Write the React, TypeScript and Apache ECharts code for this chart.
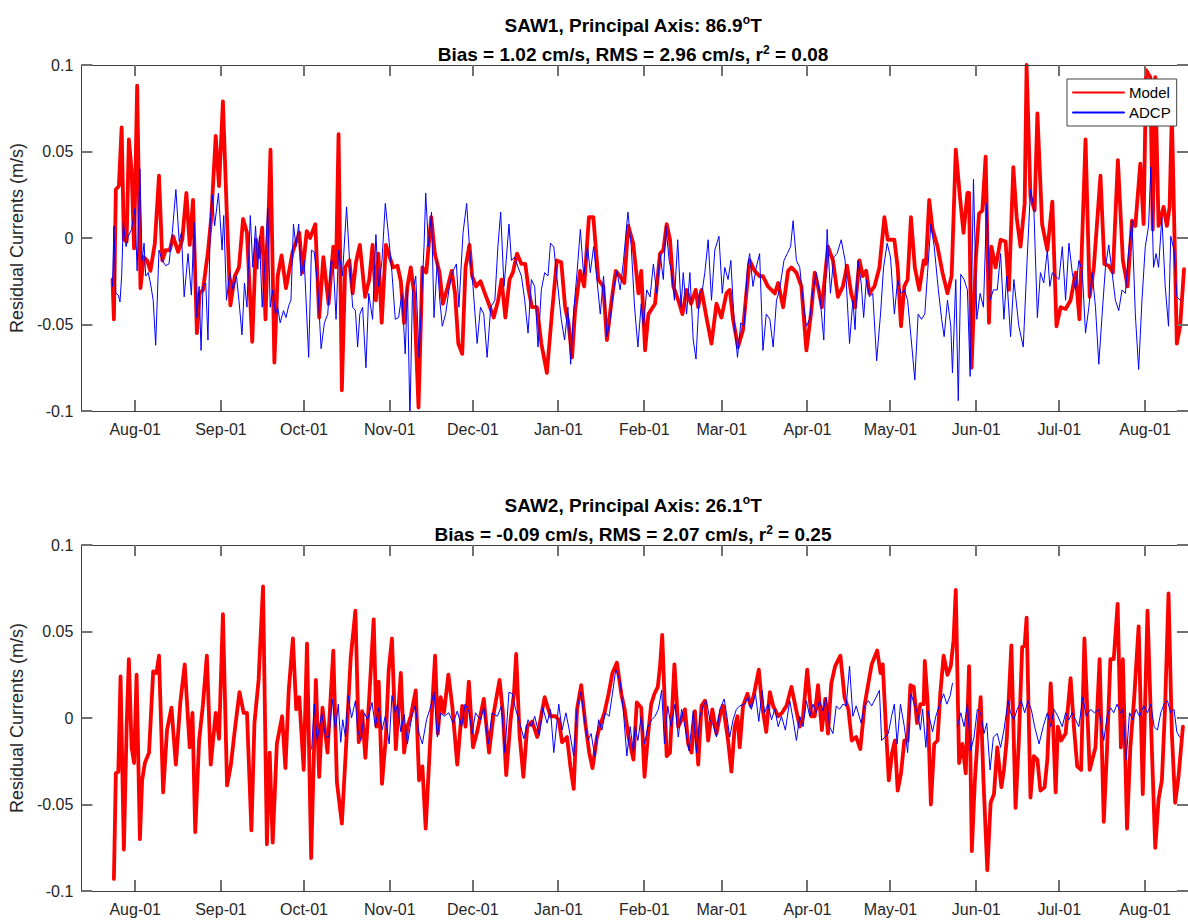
import React, { useEffect, useRef } from "react";
import * as echarts from "echarts";

// ---- axis / tick data ----
const monthDays = [0, 31, 61, 92, 122, 153, 184, 212, 243, 273, 304, 334, 365];
const monthLabels = ["Aug-01", "Sep-01", "Oct-01", "Nov-01", "Dec-01", "Jan-01", "Feb-01", "Mar-01", "Apr-01", "May-01", "Jun-01", "Jul-01", "Aug-01"];
const yTickValues = [-0.1, -0.05, 0, 0.05, 0.1];
const dayMin = -19.46;
const dayMax = 380.54;
const yMin = -0.1;
const yMax = 0.1;
const yStep = 0.05;

// ---- titles ----
const stations = ["SAW1", "SAW2"];
const principalAxis = [86.9, 26.1];
const biasCm = [1.02, -0.09];
const rmsCm = [2.96, 2.07];
const rSquared = [0.08, 0.25];

// ---- series: [days since Aug-01, residual current m/s] ----
const saw1Model: [number, number][] = [
  [-8.2,-0.024],[-7.7,-0.047],[-7.0,0.028],[-5.9,0.030],[-4.9,0.064],[-4.1,-0.001],[-3.1,-0.002],[-2.3,0.057],[-1.3,0.039],[-0.4,-0.006],
  [0.7,0.088],[1.9,-0.029],[3.1,-0.011],[4.3,-0.013],[5.5,-0.019],[7.1,-0.003],[8.6,0.036],[9.8,-0.013],[11.0,-0.007],[12.5,-0.007],
  [13.7,0.001],[15.5,-0.008],[17.0,-0.001],[18.5,0.026],[19.7,-0.004],[20.9,0.022],[22.3,-0.055],[23.3,-0.032],[24.5,-0.030],[26.3,-0.008],
  [27.5,0.012],[29.1,0.059],[30.3,0.030],[31.7,0.079],[33.2,0.010],[34.4,-0.039],[36.0,-0.022],[37.5,-0.017],[39.0,0.011],[40.4,0.003],
  [42.3,-0.060],[43.7,-0.001],[44.7,-0.011],[45.9,0.006],[47.1,-0.047],[48.9,0.051],[50.3,-0.072],[51.5,-0.022],[52.9,-0.010],[54.5,-0.029],
  [56.9,-0.008],[59.3,0.003],[60.5,-0.020],[62.0,0.004],[63.2,0.000],[65.1,0.008],[66.5,-0.046],[68.0,-0.011],[69.9,-0.038],[71.6,-0.005],
  [72.6,-0.017],[73.5,0.060],[74.7,-0.088],[75.9,-0.017],[77.4,-0.013],
  [78.6,-0.032],[79.8,-0.014],[81.2,-0.004],[83.1,-0.034],[84.6,-0.024],[85.8,-0.004],[87.0,-0.036],[87.9,-0.009],[89.1,-0.049],[90.6,-0.004],
  [92.0,-0.011],[93.2,-0.017],[94.8,-0.016],[96.0,-0.025],[97.2,-0.049],[98.4,-0.028],[99.6,-0.017],[100.8,-0.032],[102.4,-0.098],[103.8,-0.017],
  [105.2,-0.020],[107.0,0.012],[108.3,-0.009],[110.0,-0.020],[111.2,-0.038],[112.8,-0.029],[114.4,-0.019],[115.6,-0.032],[116.8,-0.061],[118.2,-0.067],
  [119.4,-0.017],[120.8,-0.004],[121.8,-0.022],[123.2,-0.028],[124.8,-0.025],[126.4,-0.032],[127.8,-0.038],[129.6,-0.046],[131.2,-0.036],[132.4,-0.024],
  [133.8,-0.046],[135.3,-0.024],[136.5,-0.020],[138.0,-0.009],[139.6,-0.015],[141.0,-0.015],[142.2,-0.030],[143.4,-0.040],[145.2,-0.040],[146.8,-0.061],
  [148.8,-0.078],[150.6,-0.044],[152.4,-0.013],[154.0,-0.014],[155.4,-0.040],[156.6,-0.049],[157.9,-0.069],[159.0,-0.042],[160.8,-0.019],[162.3,-0.028],
  [164.0,0.012],[165.6,0.012],[167.4,-0.024],[169.2,-0.028],[170.5,-0.059],[172.2,-0.036],[173.7,-0.019],[175.2,-0.022],[176.8,-0.026],[178.2,0.007],
  [180.0,-0.003],[181.9,-0.032],[182.9,-0.019],[184.3,-0.065],[185.5,-0.044],[187.9,-0.038],[189.7,-0.009],[190.9,-0.007],[192.1,0.008],[193.3,-0.001],
  [194.5,-0.028],[196.3,-0.036],[197.8,-0.044],[199.3,-0.030],[200.9,-0.038],[202.6,-0.030],[203.5,-0.040],[204.7,-0.030],[206.5,-0.046],[208.3,-0.061],
  [210.1,-0.038],[211.9,-0.046],[213.7,-0.032],[214.9,-0.030],[216.1,-0.047],[217.9,-0.063],[219.7,-0.053],[220.9,-0.032],[222.1,-0.013],[223.9,-0.019],
  [225.7,-0.022],[226.9,-0.022],[228.7,-0.028],[231.2,-0.032],[232.4,-0.026],[234.2,-0.040],[236.0,-0.019],[237.2,-0.017],[239.0,-0.020],[240.8,-0.028],
  [242.6,-0.065],[244.4,-0.042],[245.6,-0.020],[246.8,-0.028],[248.2,-0.040],[250.4,-0.005],[252.2,-0.013],[254.0,-0.034],[255.8,-0.028],[257.3,-0.016],
  [258.8,-0.032],[260.2,-0.040],[261.8,-0.013],[263.0,-0.022],[264.2,-0.019],[265.4,-0.032],[267.2,-0.028],[269.0,-0.017],[270.8,0.012],[272.0,-0.001],
  [274.4,-0.001],[275.6,-0.017],[276.8,-0.051],[278.0,-0.028],[279.2,-0.024],[280.4,0.012],[281.8,-0.017],[283.4,-0.030],[285.0,-0.013],[285.8,-0.015],
  [287.0,0.022],[288.2,0.005],[290.0,-0.005],[291.8,-0.020],[293.6,-0.032],[295.1,-0.022],[296.6,0.051],[298.2,0.022],[299.4,0.003],[300.8,0.026],
  [301.4,0.026],[302.3,-0.075],[303.8,-0.013],[305.0,0.014],[306.2,0.016],[307.4,0.047],[308.6,-0.049],[309.5,-0.005],[311.0,-0.017],[312.8,-0.001],
  [314.6,-0.002],[315.8,-0.030],[317.4,0.041],[318.6,0.012],[320.0,-0.005],[321.5,0.020],[322.2,0.100],[323.6,0.024],[325.1,0.016],[326.1,0.072],
  [327.8,0.008],[329.7,-0.007],[331.5,0.021],[333.0,-0.051],[334.5,-0.040],[336.3,-0.041],[338.1,-0.036],[339.9,-0.020],[341.3,-0.047],[343.5,0.057],
  [345.0,-0.034],[346.5,-0.017],[348.9,0.036],[350.3,-0.015],[351.9,-0.016],[353.4,-0.020],[355.2,0.045],[357.0,-0.013],[358.7,-0.028],[360.3,0.010],
  [361.5,0.007],[363.3,0.043],[364.5,0.008],[365.4,0.097],[366.9,0.093],[367.8,0.005],[368.7,0.093],[369.9,0.007],[371.7,0.018],[372.9,0.007],
  [373.9,0.018],[374.7,0.072],[376.5,-0.061],[377.7,-0.051],[379.1,-0.018]
];

const saw1Adcp: [number, number][] = [
  [-8.2,-0.028],[-7.7,0.007],[-7.0,-0.032],[-6.1,-0.033],[-5.5,-0.037],[-4.9,-0.022],[-4.3,0.009],[-3.3,-0.005],[-2.5,0.001],[-1.3,0.005],
  [-0.1,0.017],[0.7,-0.019],[1.7,0.040],[2.5,-0.013],[3.2,-0.003],[3.8,-0.022],[4.7,-0.020],[5.5,-0.026],[6.5,-0.036],[7.4,-0.062],
  [8.6,-0.007],[9.8,-0.013],[11.0,-0.016],[12.2,-0.015],[13.4,0.003],[14.7,0.028],[15.9,-0.002],[16.7,0.003],[17.7,-0.034],[19.1,-0.009],
  [20.3,-0.033],[21.3,0.009],[22.3,-0.046],[23.1,-0.028],[23.8,-0.065],[24.5,-0.028],[25.5,-0.026],[26.3,-0.059],[27.2,0.012],[27.9,0.025],
  [28.7,0.007],[30.1,0.026],[31.4,-0.007],[32.0,0.013],[33.0,-0.036],[34.2,-0.020],[35.4,-0.030],[36.6,-0.022],[37.5,-0.036],[38.6,-0.056],
  [39.5,-0.026],[40.4,-0.040],[41.6,0.013],[42.5,-0.017],[43.5,0.007],[44.3,-0.018],[44.9,0.001],[45.9,-0.040],[46.7,-0.020],[47.9,0.017],
  [48.8,-0.040],[49.7,-0.030],[50.7,-0.044],[51.5,-0.040],[52.4,-0.049],[53.6,-0.042],[54.5,-0.046],[55.5,-0.039],[56.3,-0.036],[57.2,0.008],
  [58.1,-0.005],[59.1,0.008],[59.9,-0.022],[61.1,-0.013],[62.7,-0.069],[63.7,-0.007],[64.7,-0.008],[66.0,-0.028],[67.2,-0.064],[68.4,-0.049],
  [69.6,-0.044],[70.8,-0.013],[71.6,-0.015],[72.6,-0.047],[73.5,-0.007],[74.9,-0.022],[76.4,0.018],[77.4,-0.011],
  [78.6,-0.040],[79.6,-0.042],[80.4,-0.063],[81.2,-0.044],[82.2,-0.040],[83.4,-0.075],[84.4,-0.032],[85.8,-0.047],[87.0,0.002],[88.0,-0.028],
  [89.2,-0.013],[90.4,0.020],[91.6,0.001],[92.8,-0.020],[94.0,-0.047],[95.2,-0.046],[96.4,-0.032],[97.6,-0.067],[98.4,-0.028],[99.3,-0.105],
  [100.2,-0.032],[101.4,-0.022],[102.6,-0.069],[103.6,-0.032],[104.4,-0.005],[105.0,0.026],[106.0,-0.005],[107.1,0.015],[108.0,-0.046],[109.2,-0.013],
  [110.1,-0.036],[111.0,-0.051],[112.2,-0.044],[113.4,-0.030],[114.6,-0.020],[116.1,-0.015],[117.0,-0.040],[118.5,0.003],[119.8,0.020],[120.9,-0.007],
  [122.1,-0.028],[123.6,-0.061],[124.8,-0.040],[126.0,-0.044],[127.2,-0.069],[128.5,-0.040],[130.0,-0.036],[131.1,-0.005],[132.1,0.015],[133.3,-0.028],
  [134.1,-0.013],[135.1,0.008],[136.0,-0.013],[137.2,-0.011],[138.4,-0.017],[139.6,-0.022],[140.8,-0.036],[142.0,-0.055],[143.2,-0.024],[144.4,-0.028],
  [145.6,-0.063],[146.8,-0.030],[148.0,-0.020],[149.2,-0.022],[150.1,-0.003],[151.3,-0.005],[152.5,-0.024],[154.0,-0.047],[155.2,-0.059],[156.4,-0.040],
  [157.4,-0.073],[158.5,-0.042],[159.7,-0.020],[160.9,0.005],[162.1,-0.022],[163.5,-0.005],[164.5,-0.020],[165.7,-0.005],[166.9,-0.024],[168.1,-0.044],
  [169.3,-0.022],[170.5,-0.057],[171.7,-0.047],[172.9,-0.030],[174.1,-0.019],[175.3,-0.030],[176.5,-0.013],[178.1,0.015],[179.3,-0.005],
  [180.5,-0.040],[181.7,-0.063],[182.9,-0.038],[183.7,-0.051],[184.9,-0.030],[186.1,-0.034],[187.3,-0.015],[188.5,-0.032],[189.7,-0.009],[190.9,-0.024],
  [191.8,0.007],[193.0,-0.013],[193.9,-0.020],[194.9,-0.036],[196.1,-0.001],[197.3,-0.040],[198.1,-0.020],[199.3,-0.044],[200.5,-0.020],[201.7,-0.059],
  [202.7,-0.070],[203.9,-0.032],[205.0,-0.030],[205.9,-0.020],[207.1,-0.001],[208.3,-0.036],[209.5,-0.007],[211.0,0.001],[212.2,-0.032],[213.1,-0.017],
  [214.3,-0.024],[215.3,-0.013],[216.5,-0.049],[217.7,-0.069],[218.9,-0.049],[220.1,-0.051],[221.3,-0.017],[222.1,-0.009],[223.3,-0.028],[224.5,-0.017],
  [225.7,-0.009],[226.9,-0.065],[228.1,-0.044],[229.4,-0.047],[230.6,-0.063],[231.8,-0.036],[232.9,-0.030],[234.5,-0.013],[235.7,-0.009],[236.9,-0.005],
  [237.8,0.010],[239.0,-0.013],[240.2,-0.017],[241.4,-0.036],[242.6,-0.051],[243.8,-0.047],[245.0,-0.030],[246.2,-0.020],[247.4,-0.032],[248.9,-0.059],
  [250.1,0.005],[251.3,-0.032],[252.5,-0.011],[253.7,-0.009],[255.2,-0.001],[256.6,-0.013],[258.2,-0.061],[259.4,-0.036],[260.2,-0.053],[261.2,-0.013],
  [262.4,-0.026],[263.3,-0.046],[264.3,-0.024],[265.4,-0.034],[266.6,-0.032],[268.0,-0.071],[269.4,-0.044],[270.5,-0.017],[271.8,-0.003],[273.0,-0.011],
  [274.4,-0.044],[275.6,-0.024],
  [276.8,-0.032],[278.0,-0.030],[279.2,-0.036],[280.4,-0.057],[281.8,-0.082],[283.0,-0.044],[284.2,-0.047],[285.4,-0.044],[286.4,-0.020],[287.6,0.008],
  [288.8,-0.005],[290.3,-0.030],[291.5,-0.047],[292.4,-0.057],[293.6,-0.036],[294.8,-0.051],[295.4,-0.078],[296.6,-0.024],[297.5,-0.094],[298.4,-0.021],
  [299.6,-0.024],[300.8,-0.030],[301.8,-0.080],[303.0,0.034],[304.2,-0.047],[305.4,-0.032],[306.6,-0.040],[307.8,0.020],[309.0,-0.036],[310.2,-0.030],
  [311.6,-0.030],[312.8,-0.009],[314.0,-0.047],[315.0,-0.022],[316.4,-0.057],[317.6,-0.024],[319.4,-0.051],[321.0,-0.063],[322.2,-0.019],[323.6,0.028],
  [324.8,0.018],[326.1,-0.046],[327.2,-0.020],[328.4,-0.026],[329.7,-0.007],[330.6,-0.028],[331.5,-0.020],[332.7,-0.022],[333.9,-0.024],[335.1,-0.005],
  [336.3,-0.036],[337.5,-0.003],[338.7,-0.020],[339.9,-0.030],[341.1,-0.013],[342.3,-0.019],[343.5,-0.055],[344.7,-0.040],[345.9,-0.020],[347.1,-0.040],
  [348.3,-0.073],[349.5,-0.044],[350.7,-0.017],[351.9,-0.004],[353.1,-0.020],[354.3,-0.036],[355.5,-0.042],[356.7,-0.030],[357.9,-0.032],[359.1,-0.007],
  [360.3,0.010],[361.5,-0.044],[362.7,-0.076],[363.9,-0.036],[365.1,-0.005],[366.3,0.007],[367.1,0.041],[368.1,-0.017],[369.0,-0.009],[369.9,-0.017],
  [371.1,0.012],[372.3,-0.028],[373.5,-0.051],[374.3,0.001],[375.5,-0.007],[376.5,-0.034],[377.7,-0.036]
];

const saw2Model: [number, number][] = [
  [-7.7,-0.093],[-7.0,-0.032],[-6.1,-0.031],[-5.3,0.024],[-4.1,-0.076],[-3.1,-0.005],[-2.3,0.034],[-1.3,-0.017],[-0.4,-0.026],[0.5,0.025],
  [1.7,-0.070],[2.5,-0.036],[3.5,-0.026],[5.0,-0.020],[6.5,0.027],[7.7,0.026],[8.6,0.036],[10.1,-0.043],[11.5,-0.007],[13.1,0.006],
  [14.7,-0.027],[16.3,0.009],[17.9,0.031],[19.7,-0.017],[20.7,0.003],[21.7,-0.066],[23.1,-0.013],[24.5,0.008],[25.9,0.036],[27.3,-0.027],
  [29.1,0.003],[30.3,-0.012],[31.7,0.060],[33.2,-0.039],[34.5,-0.028],[36.0,-0.007],[37.7,0.015],[39.2,0.003],[40.4,0.003],[42.0,-0.065],
  [43.1,-0.003],[44.6,0.022],[46.2,0.076],[47.6,-0.073],[48.6,-0.020],[49.7,-0.072],[51.2,-0.015],[53.1,0.001],[54.3,-0.029],[55.5,0.016],
  [57.0,0.046],[58.2,0.005],[59.3,0.012],[60.9,-0.030],[62.1,0.043],[63.6,-0.081],[65.3,0.022],[66.5,-0.034],[67.7,0.006],[69.5,-0.020],
  [71.6,0.039],[72.9,-0.037],[74.7,-0.061],[76.1,-0.020],[77.9,0.035],
  [79.6,0.062],[80.8,-0.014],[82.0,0.004],[83.2,-0.023],[84.6,0.012],[86.2,0.057],[87.2,-0.005],[88.0,0.021],[89.2,-0.038],[90.6,-0.011],
  [91.6,0.027],[92.8,0.046],[94.2,-0.018],[96.0,0.026],[97.2,-0.020],[98.4,-0.005],[99.6,0.001],[101.4,0.016],[102.6,-0.036],[103.8,-0.028],
  [105.0,-0.064],[106.5,-0.017],[108.4,0.036],[109.4,-0.009],[110.4,0.012],[111.6,0.003],[113.2,0.025],[114.6,0.007],[116.4,-0.027],[118.2,0.007],
  [119.4,-0.005],[120.6,0.021],[122.1,-0.017],[123.6,-0.008],[126.0,0.011],[127.9,-0.020],[129.6,0.003],[131.7,0.022],[132.9,0.003],[134.1,-0.033],
  [135.7,-0.001],[136.9,0.014],[137.7,0.037],[138.9,-0.009],[140.3,-0.034],[141.7,-0.005],[143.5,-0.002],[145.3,-0.011],[148.0,0.012],[150.1,0.001],
  [151.9,0.001],[153.1,-0.001],[154.3,-0.014],[156.1,-0.011],[157.3,-0.028],[158.5,-0.041],[159.7,0.005],[161.2,0.019],[162.7,-0.003],[164.1,-0.020],
  [165.3,-0.029],[166.9,-0.011],[168.1,-0.004],[169.6,0.003],[171.1,0.014],[172.5,0.026],[174.1,0.032],[175.7,0.014],[176.9,0.005],[178.3,-0.011],
  [180.1,-0.024],[181.3,0.009],[182.9,0.006],
  [184.1,-0.034],[185.3,-0.011],[186.5,0.008],[187.7,0.014],[188.9,0.018],[189.7,0.030],[190.5,0.048],[192.1,-0.022],[193.3,-0.020],[194.9,0.031],
  [196.3,-0.005],[197.5,-0.001],[198.7,0.005],[199.9,-0.015],[201.1,-0.020],[202.3,0.004],[203.5,-0.027],[204.7,0.007],[205.9,0.010],[207.1,-0.013],
  [208.6,0.005],[210.1,-0.009],[211.3,0.001],[212.5,0.007],[214.3,-0.013],[215.5,-0.031],[216.7,-0.005],[217.7,0.001],[218.5,-0.017],[219.7,0.007],
  [221.3,0.014],[222.5,0.007],[223.7,0.014],[225.4,0.028],[226.6,0.007],[228.1,-0.008],[229.4,0.015],[230.6,0.007],[232.4,0.001],[233.8,0.003],
  [235.4,0.007],[237.2,0.018],[238.6,0.007],[240.2,-0.005],[241.4,0.001],[242.9,0.028],[244.4,0.001],[245.6,0.001],[246.8,0.019],[248.2,-0.007],
  [249.4,0.011],[250.4,-0.009],[251.6,0.020],[253.0,0.030],[254.9,0.036],[256.4,0.012],[257.8,0.005],[259.0,-0.013],[260.6,-0.011],[262.1,-0.018],
  [263.6,0.007],[265.0,0.020],[266.2,0.031],[268.2,0.039],[269.4,0.026],[270.2,0.031],[271.4,-0.007],[272.4,-0.036],[273.6,-0.020],[274.6,-0.013],
  [275.6,-0.042],
  [276.8,-0.032],[278.0,-0.013],[279.2,-0.013],[280.2,0.019],[281.4,0.018],[282.6,-0.003],[283.8,0.008],[285.0,0.008],[285.4,0.033],[286.4,0.010],
  [287.6,-0.050],[288.8,-0.015],[290.0,-0.013],[291.0,0.014],[292.2,0.036],[293.6,0.025],[294.8,0.030],[295.8,0.045],[296.6,0.074],[297.8,-0.026],
  [299.0,-0.015],[300.2,-0.032],[301.4,0.030],[302.4,-0.077],[303.5,-0.036],[304.7,-0.007],[305.6,0.012],[306.6,-0.036],[308.0,-0.088],[309.2,-0.049],
  [310.4,-0.044],[311.6,-0.017],[313.1,-0.040],[314.0,-0.030],[315.0,-0.013],[316.7,0.042],[318.2,-0.052],[319.4,-0.013],[320.6,0.041],[321.5,0.042],
  [322.2,0.058],[323.6,-0.046],[324.8,-0.022],[326.1,-0.024],[327.2,-0.042],[328.7,-0.040],[329.7,-0.024],[330.9,0.020],[331.8,-0.005],[332.7,-0.043],
  [333.5,-0.005],[334.7,-0.013],[336.3,-0.009],[338.1,0.023],[339.3,-0.005],[340.5,-0.028],[341.9,-0.030],[343.1,0.046],[345.0,-0.030],[347.1,-0.017],
  [348.6,0.034],[350.1,-0.060],[351.3,-0.017],[352.5,0.034],[353.7,0.034],[355.1,0.066],[356.3,-0.017],[357.0,0.034],[358.5,-0.064],[359.7,-0.017],
  [361.1,0.012],[362.7,0.053],[364.2,-0.044],[365.9,0.062],[367.5,-0.019],[368.7,-0.075],[369.9,-0.047],[371.1,-0.036],[372.3,0.008],[373.5,0.072],
  [374.7,-0.009],[375.9,-0.049],[377.1,-0.034],[378.7,-0.005]
];

const saw2Adcp: [number, number | null][] = [
  [63.8,-0.018],[64.7,0.008],[65.8,-0.013],[67.4,0.003],[68.8,-0.011],[70.0,-0.011],[71.2,0.011],[72.4,-0.007],[73.4,0.008],[74.3,-0.014],
  [75.0,-0.001],[76.0,-0.011],[77.0,0.013],[78.2,0.000],
  [79.6,0.010],[80.4,-0.007],[81.6,-0.013],[82.8,0.003],[84.0,-0.001],[85.6,0.009],[86.8,-0.005],[88.0,0.006],[89.2,-0.007],[90.4,0.001],
  [91.8,-0.015],[92.8,0.013],[94.0,0.003],[94.8,0.008],[96.0,-0.008],[97.2,0.002],[98.4,-0.015],[100.0,0.001],[101.2,0.007],[102.6,-0.009],
  [103.8,-0.015],[105.3,-0.001],[106.5,0.005],[108.0,0.015],[109.2,-0.011],[110.4,0.003],[111.6,0.001],[113.4,0.003],[114.9,-0.003],[116.4,0.004],
  [118.0,-0.005],[119.2,0.008],[120.6,0.004],[121.8,-0.009],[123.0,0.003],[124.8,-0.001],[126.0,0.006],[127.6,-0.015],[129.0,0.003],[130.9,0.001],
  [132.4,0.007],[133.6,-0.020],[135.1,0.015],[136.3,0.014],[137.5,0.005],[138.7,-0.001],[140.5,-0.012],[142.0,-0.001],[143.2,-0.005],[144.4,0.001],
  [146.1,-0.010],[147.3,0.006],[148.9,-0.003],[150.1,0.005],[151.3,-0.020],[153.1,0.008],[154.3,-0.007],[155.7,0.003],[156.9,-0.007],[158.5,-0.022],
  [159.7,0.005],[161.1,0.015],[162.4,-0.001],[163.6,-0.013],[164.8,-0.009],[166.1,-0.022],[167.5,-0.001],[168.7,-0.007],[169.9,0.003],[171.3,0.001],
  [172.5,0.014],[173.7,0.028],[175.3,0.021],[176.5,0.003],[177.7,-0.022],[178.9,-0.005],[180.1,-0.020],
  [180.7,-0.005],[181.7,-0.013],[182.9,0.001],[184.1,-0.015],[185.3,-0.005],[186.7,-0.001],[187.9,0.001],[189.1,0.005],[190.3,0.016],[191.3,-0.015],
  [192.5,0.007],[193.7,-0.005],[195.1,0.008],[196.3,-0.011],[197.5,0.005],[198.7,-0.005],[200.2,-0.019],[201.7,0.004],[202.9,-0.020],[204.1,0.001],
  [205.3,0.007],[206.5,0.010],[207.7,-0.001],[208.9,-0.004],[210.1,-0.011],[211.3,0.005],[212.9,0.011],[213.7,0.003],[214.9,-0.011],[216.1,-0.001],
  [217.3,0.005],[218.5,0.007],[220.3,0.008],[221.5,0.012],[222.7,0.005],[224.2,0.014],[225.4,-0.002],[226.6,0.016],[227.5,0.003],[228.7,0.008],
  [230.0,-0.001],[231.2,0.005],[232.4,-0.005],[233.6,0.001],[235.0,-0.007],[236.6,0.010],[237.8,-0.001],[239.0,-0.013],[240.2,0.001],[241.4,-0.005],
  [242.6,0.010],[243.8,0.001],[245.0,0.008],[246.2,0.003],[247.4,0.010],[248.6,0.004],[249.8,0.012],[251.0,-0.005],[252.2,-0.009],[253.4,0.007],
  [254.6,0.005],[255.8,0.008],[257.0,0.007],[258.2,0.030],[259.4,0.001],[260.6,0.007],[262.4,-0.003],[263.6,0.007],[265.0,0.010],[266.2,0.007],
  [267.8,0.012],[269.0,0.016],[269.8,-0.013],[271.0,-0.011],[272.2,-0.009],[273.4,0.001],[274.4,0.008],[275.4,-0.015],[276.6,0.008],
  [278.0,-0.005],[279.2,-0.020],[280.4,0.014],[281.6,0.008],[282.8,0.003],[283.8,-0.007],[284.6,0.005],[285.8,-0.017],[286.6,0.004],[288.2,-0.008],
  [289.4,0.001],[290.6,0.007],[292.2,0.014],[293.4,0.008],[294.6,0.013],[295.4,0.020],[296.3,null],[297.2,-0.005],[298.4,0.003],[299.6,-0.005],
  [300.8,0.008],[302.0,-0.019],[303.2,-0.011],[304.4,0.005],[305.6,0.003],[306.8,-0.009],[307.8,-0.003],[309.0,-0.030],[310.2,-0.011],[311.6,-0.009],
  [312.8,-0.017],[314.0,-0.007],[315.5,0.010],[316.4,0.003],[317.6,-0.001],[318.8,0.005],[320.3,0.010],[321.5,0.003],[322.7,0.010],[323.9,0.005],
  [325.1,-0.005],[326.7,-0.015],[328.2,-0.005],[329.7,0.003],[330.9,-0.005],[332.1,0.005],[333.5,0.001],[335.1,-0.005],[336.3,0.003],[337.5,-0.001],
  [338.7,0.003],[339.9,-0.001],[341.1,-0.005],[342.5,0.012],[343.8,0.001],[345.3,0.005],[346.7,0.003],[348.3,0.005],[350.1,-0.013],[351.3,0.001],
  [352.5,0.006],[353.7,0.003],[354.9,0.008],[356.1,0.003],[357.0,0.005],[358.2,-0.024],[359.4,0.003],[360.6,-0.001],[361.8,0.005],[363.0,0.001],
  [364.5,0.007],[365.9,0.003],[367.1,0.008],[368.3,-0.005],[369.5,-0.007],[370.7,0.003],[371.9,0.008],[373.1,0.010],[374.3,0.003],[375.5,0.005],
  [376.5,-0.008],[377.5,-0.011]
];

const FONT = "'Liberation Sans', Arial, Helvetica, sans-serif";
const AXIS_COLOR = "#404040";
const TICK_COLOR = "#707070";
const TEXT_COLOR = "#262626";
const RED = "#ff0000";
const BLUE = "#0000ff";
const TICK_LEN = 11;

const GRID_LEFT = 78;
const GRID_WIDTH = 1110;
const GRID_TOPS = [65, 545];
const GRID_HEIGHT = 346;
const PLOT_CENTER = GRID_LEFT + GRID_WIDTH / 2;

function monthLabel(v: number): string {
  const i = monthDays.findIndex((d) => Math.abs(d - v) < 0.01);
  return i >= 0 ? monthLabels[i] : "";
}

function buildOption(): any {
  const grids = GRID_TOPS.map((top) => ({
    left: GRID_LEFT,
    top,
    width: GRID_WIDTH,
    height: GRID_HEIGHT,
    show: false,
    containLabel: false,
  }));

  const xAxes: any[] = [];
  const yAxes: any[] = [];
  GRID_TOPS.forEach((_, g) => {
    ["bottom", "top"].forEach((pos) => {
      xAxes.push({
        type: "value",
        gridIndex: g,
        position: pos,
        min: dayMin,
        max: dayMax,
        z: 5,
        axisLine: { show: true, onZero: false, lineStyle: { color: AXIS_COLOR, width: 1 } },
        splitLine: { show: false },
        axisTick: { show: false },
        axisLabel: {
          show: pos === "bottom",
          customValues: monthDays,
          formatter: (v: number) => monthLabel(v),
          fontSize: 16,
          fontFamily: FONT,
          color: TEXT_COLOR,
          margin: 10,
        },
      });
    });
    ["left", "right"].forEach((pos) => {
      yAxes.push({
        type: "value",
        gridIndex: g,
        position: pos,
        min: yMin,
        max: yMax,
        interval: yStep,
        z: 5,
        name: pos === "left" ? "Residual Currents (m/s)" : "",
        nameLocation: "middle",
        nameGap: 52,
        nameTextStyle: { fontSize: 18, fontFamily: FONT, color: TEXT_COLOR },
        axisLine: { show: true, onZero: false, lineStyle: { color: AXIS_COLOR, width: 1 } },
        splitLine: { show: false },
        axisTick: { show: false },
        axisLabel: {
          show: pos === "left",
          fontSize: 16,
          fontFamily: FONT,
          color: TEXT_COLOR,
          margin: 8,
        },
      });
    });
  });

  const seriesDefs = [
    { name: "Model", data: saw1Model, g: 0, color: RED, width: 3.8 },
    { name: "ADCP", data: saw1Adcp, g: 0, color: BLUE, width: 1 },
    { name: "Model", data: saw2Model, g: 1, color: RED, width: 3.8 },
    { name: "ADCP", data: saw2Adcp, g: 1, color: BLUE, width: 1 },
  ];
  const series: any[] = seriesDefs.map((s) => ({
    name: s.name,
    type: "line",
    xAxisIndex: s.g * 2,
    yAxisIndex: s.g * 2,
    data: s.data.map((p) => [p[0], p[1] === null ? "-" : p[1]]),
    symbol: "none",
    showSymbol: false,
    clip: true,
    connectNulls: false,
    z: 2,
    lineStyle: { color: s.color, width: s.width, join: "round", cap: "round" },
    itemStyle: { color: s.color },
    emphasis: { disabled: true },
    silent: true,
  }));

  const titleRich = {
    sup: { fontSize: 12, fontWeight: "bold", fontFamily: FONT, fill: "#000", verticalAlign: "top", lineHeight: 12 },
  };
  const graphics: any[] = [];
  stations.forEach((st, i) => {
    const top = GRID_TOPS[i];
    const line1 = `${st}, Principal Axis: ${principalAxis[i].toFixed(1)}{sup|o}T`;
    const line2 = `Bias = ${biasCm[i].toFixed(2)} cm/s, RMS = ${rmsCm[i].toFixed(2)} cm/s, r{sup|2} = ${rSquared[i].toFixed(2)}`;
    [line1, line2].forEach((txt, k) => {
      graphics.push({
        type: "text",
        x: PLOT_CENTER,
        y: top - (k === 0 ? 40 : 10.5),
        z: 20,
        style: {
          text: txt,
          fontSize: 19,
          fontWeight: "bold",
          fontFamily: FONT,
          fill: "#000",
          align: "center",
          verticalAlign: "middle",
          lineHeight: 22,
          rich: titleRich,
        },
      });
    });
  });

  return {
    animation: false,
    backgroundColor: "#ffffff",
    grid: grids,
    xAxis: xAxes,
    yAxis: yAxes,
    series,
    legend: {
      data: ["Model", "ADCP"],
      orient: "vertical",
      left: 1067,
      top: 79,
      z: 10,
      itemWidth: 51,
      itemHeight: 14,
      itemGap: 5,
      padding: [6, 6, 6, 5],
      backgroundColor: "#ffffff",
      borderColor: AXIS_COLOR,
      borderWidth: 1,
      borderRadius: 0,
      selectedMode: false,
      itemStyle: { opacity: 0 },
      textStyle: { fontSize: 15, fontFamily: FONT, color: "#000" },
    },
    graphic: graphics,
  };
}

// inward ticks on all four sides, positioned through the chart's own scales
function tickGraphics(chart: any): any[] {
  const out: any[] = [];
  GRID_TOPS.forEach((_, g) => {
    const finder = { gridIndex: g };
    const tl = chart.convertToPixel(finder, [dayMin, yMax]);
    const br = chart.convertToPixel(finder, [dayMax, yMin]);
    if (!tl || !br) return;
    const top = tl[1], bottom = br[1], left = tl[0], right = br[0];
    monthDays.forEach((d) => {
      const p = chart.convertToPixel(finder, [d, 0]);
      const x = Math.round(p[0]);
      out.push({ type: "rect", z: 30, silent: true, shape: { x: x - 1, y: top, width: 2, height: TICK_LEN }, style: { fill: TICK_COLOR } });
      out.push({ type: "rect", z: 30, silent: true, shape: { x: x - 1, y: bottom - TICK_LEN, width: 2, height: TICK_LEN }, style: { fill: TICK_COLOR } });
    });
    yTickValues.forEach((v) => {
      const p = chart.convertToPixel(finder, [dayMin, v]);
      const y = Math.round(p[1]);
      out.push({ type: "rect", z: 30, silent: true, shape: { x: left, y: y - 1, width: TICK_LEN, height: 2 }, style: { fill: TICK_COLOR } });
      out.push({ type: "rect", z: 30, silent: true, shape: { x: right - TICK_LEN, y: y - 1, width: TICK_LEN, height: 2 }, style: { fill: TICK_COLOR } });
    });
  });
  return out;
}

export default function App() {
  const ref = useRef<HTMLDivElement>(null);
  useEffect(() => {
    if (!ref.current) return;
    const chart = echarts.init(ref.current, null, { renderer: "svg" });
    const option = buildOption();
    chart.setOption(option);
    const ticks = tickGraphics(chart);
    chart.setOption({ graphic: [...option.graphic, ...ticks] });
    return () => chart.dispose();
  }, []);
  return (
    <div
      ref={ref}
      style={{ position: "fixed", left: 0, top: 0, width: 1188, height: 920, background: "#fff" }}
    />
  );
}
